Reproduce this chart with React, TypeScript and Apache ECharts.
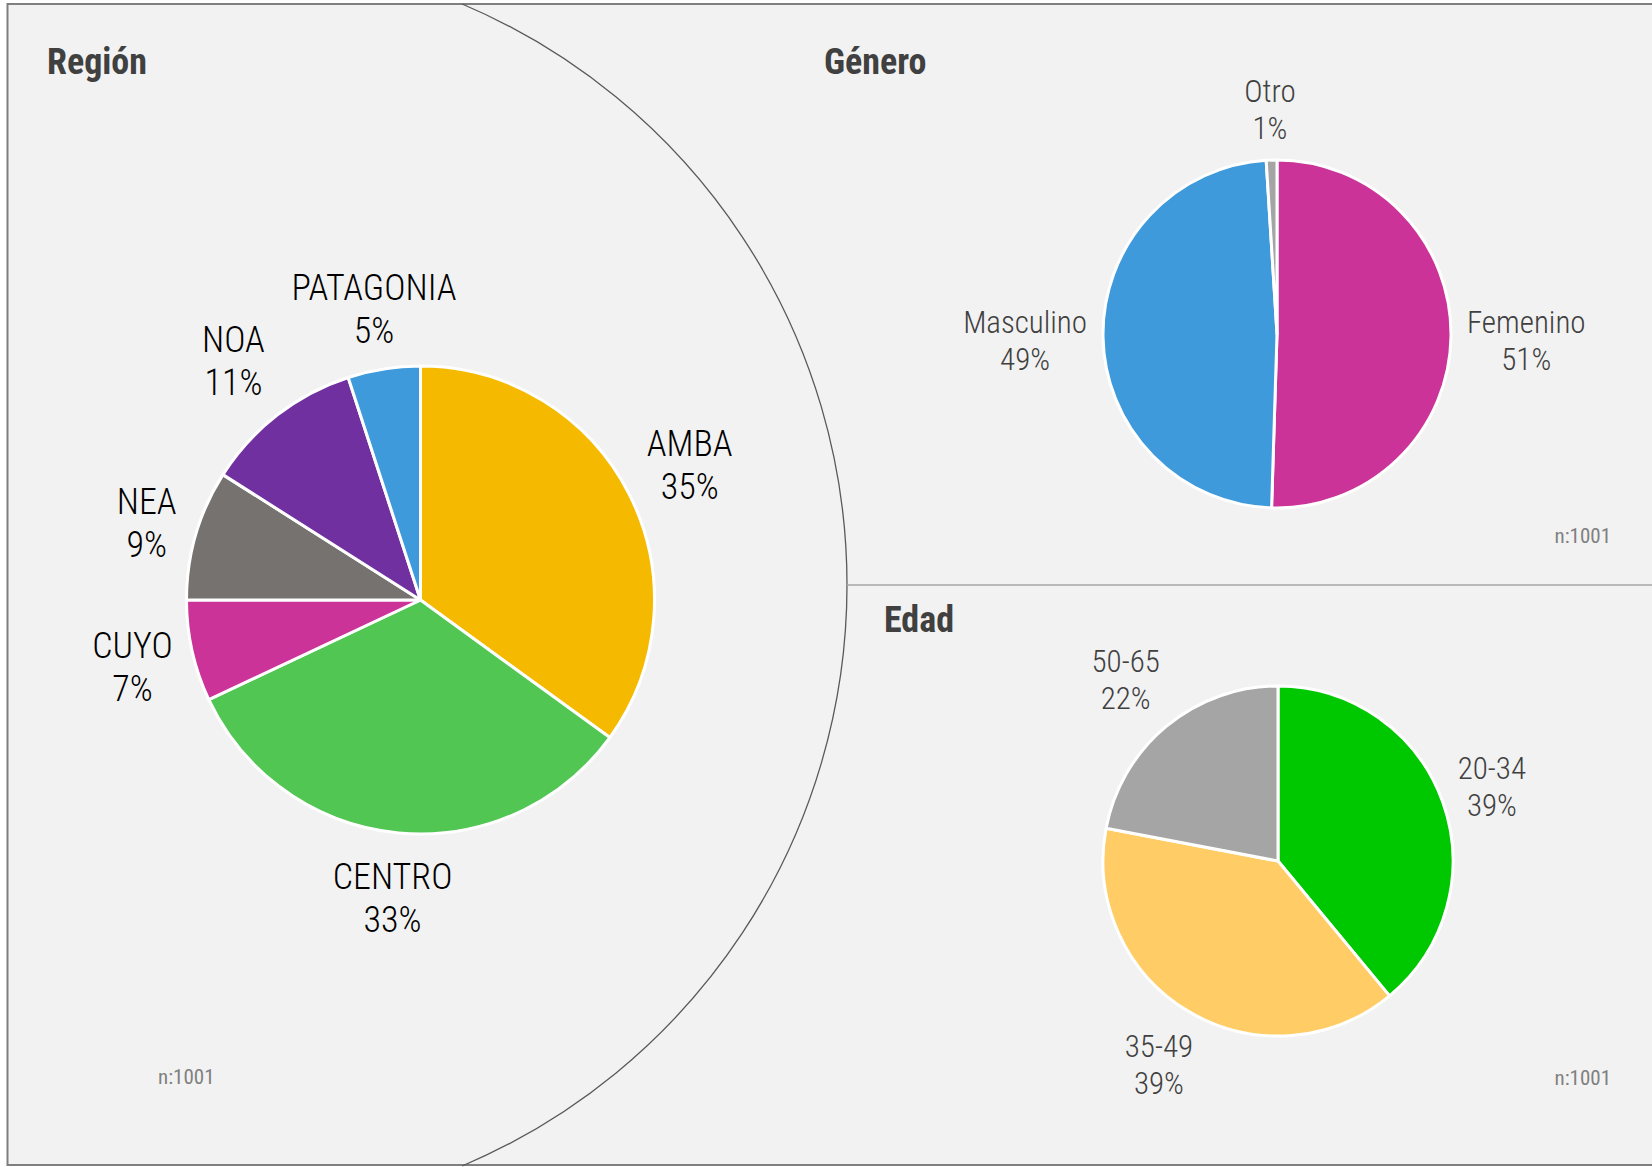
import React, { useEffect, useRef } from "react";
import * as echarts from "echarts";

const regionNames = ["AMBA", "CENTRO", "CUYO", "NEA", "NOA", "PATAGONIA"];
const regionValues = [35, 33, 7, 9, 11, 5];
const regionColors = ["#F5BA00", "#51C653", "#CB3398", "#767270", "#7030A0", "#3E9ADB"];

const genderNames = ["Femenino", "Masculino", "Otro"];
const genderValues = [51, 49, 1];
const genderColors = ["#CB3398", "#3E9ADB", "#A5A5A5"];

const ageNames = ["20-34", "35-49", "50-65"];
const ageValues = [39, 39, 22];
const ageColors = ["#00C800", "#FFCC66", "#A5A5A5"];

const titles = ["Región", "Género", "Edad"];
const sampleLabel = "n:1001";

const FONT = "'Liberation Sans Narrow', 'Arial Narrow', 'Roboto Condensed', 'DejaVu Sans Condensed', sans-serif";

function makeLayout(values: number[], cx: number, cy: number, r: number, gap: number) {
  const total = values.reduce((a, b) => a + b, 0);
  return (params: any) => {
    const i = params.dataIndex;
    let cum = 0;
    for (let k = 0; k < i; k++) cum += values[k];
    const mid = ((cum + values[i] / 2) / total) * Math.PI * 2;
    const dx = Math.sin(mid);
    const dy = -Math.cos(mid);
    const w = params.labelRect.width;
    const h = params.labelRect.height;
    const tx = Math.abs(dx) > 1e-6 ? w / 2 / Math.abs(dx) : Infinity;
    const ty = Math.abs(dy) > 1e-6 ? h / 2 / Math.abs(dy) : Infinity;
    const d = r + gap + Math.min(tx, ty);
    return { x: cx + dx * d, y: cy + dy * d + 3, align: "center", verticalAlign: "middle" };
  };
}

function pieSeries(
  names: string[],
  values: number[],
  colors: string[],
  cx: number,
  cy: number,
  r: number,
  fontSize: number,
  lineHeight: number,
  color: string,
  gap: number
) {
  return {
    type: "pie",
    center: [cx, cy],
    radius: [0, r],
    startAngle: 90,
    clockwise: true,
    avoidLabelOverlap: false,
    silent: true,
    itemStyle: { borderColor: "#FFFFFF", borderWidth: 3 },
    label: {
      show: true,
      position: "outside",
      formatter: "{b}\n{c}%",
      fontFamily: FONT,
      fontWeight: 300,
      fontSize,
      lineHeight,
      color,
    },
    labelLine: { show: false },
    labelLayout: makeLayout(values, cx, cy, r, gap),
    data: names.map((n, i) => ({ name: n, value: values[i], itemStyle: { color: colors[i] } })),
  };
}

export default function App() {
  const ref = useRef<HTMLDivElement>(null);
  useEffect(() => {
    document.body.style.margin = "0";
    const chart = echarts.init(ref.current!, null, { renderer: "svg" });
    const arcR = 631;
    const arcCx = 216;
    const arcCy = 585;
    const ang = Math.asin(581 / arcR);
    chart.setOption({
      animation: false,
      backgroundColor: "#FFFFFF",
      graphic: [
        {
          type: "rect",
          z: -10,
          shape: { x: 7.5, y: 4, width: 1700, height: 1161 },
          style: { fill: "#F2F2F2", stroke: "#7F7F7F", lineWidth: 2 },
        },
        {
          type: "arc",
          z: -5,
          shape: { cx: arcCx, cy: arcCy, r: arcR, startAngle: -ang, endAngle: ang, clockwise: true },
          style: { stroke: "#595959", lineWidth: 1.3, fill: "none" },
        },
        {
          type: "line",
          z: -5,
          shape: { x1: arcCx + arcR, y1: arcCy, x2: 1660, y2: arcCy },
          style: { stroke: "#A6A6A6", lineWidth: 1.6 },
        },
        {
          type: "text",
          x: 47,
          y: 62,
          style: { text: titles[0], font: `bold 36px ${FONT}`, fill: "#404040", align: "left", verticalAlign: "middle" },
        },
        {
          type: "text",
          x: 824,
          y: 62,
          style: { text: titles[1], font: `bold 36px ${FONT}`, fill: "#404040", align: "left", verticalAlign: "middle" },
        },
        {
          type: "text",
          x: 884,
          y: 620,
          style: { text: titles[2], font: `bold 36px ${FONT}`, fill: "#404040", align: "left", verticalAlign: "middle" },
        },
        {
          type: "text",
          x: 158,
          y: 1077,
          style: { text: sampleLabel, font: `21px ${FONT}`, fill: "#808080", align: "left", verticalAlign: "middle" },
        },
        {
          type: "text",
          x: 1611,
          y: 536,
          style: { text: sampleLabel, font: `21px ${FONT}`, fill: "#808080", align: "right", verticalAlign: "middle" },
        },
        {
          type: "text",
          x: 1611,
          y: 1078,
          style: { text: sampleLabel, font: `21px ${FONT}`, fill: "#808080", align: "right", verticalAlign: "middle" },
        },
      ],
      series: [
        pieSeries(regionNames, regionValues, regionColors, 420.5, 600, 234, 36, 43, "#000000", 20),
        pieSeries(genderNames, genderValues, genderColors, 1277, 334, 174, 31, 37, "#404040", 16),
        pieSeries(ageNames, ageValues, ageColors, 1278, 861, 175, 31, 37, "#404040", 16),
      ],
    });
    return () => chart.dispose();
  }, []);
  return <div ref={ref} style={{ width: 1652, height: 1167 }} />;
}
